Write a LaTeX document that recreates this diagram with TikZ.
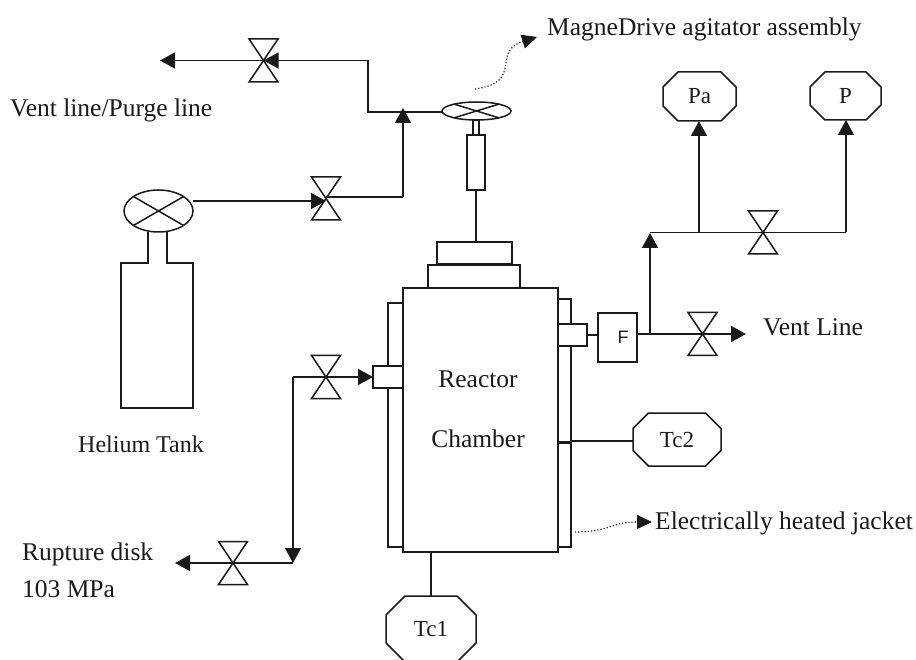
\documentclass[tikz,border=0pt]{standalone}
\usepackage{fontspec}
\setmainfont{Liberation Serif}
\setsansfont{Liberation Sans}
\usetikzlibrary{positioning,arrows.meta,shapes.geometric}
\definecolor{ink}{HTML}{1A1A1A}

% valve: name, position
\newcommand{\valve}[2]{
  \node[valvebox] (#1) at (#2) {};
  \draw[line] (#1.north west) -- (#1.south east) -- (#1.south west) -- (#1.north east) -- cycle;
}
% gauge: name, position, width, height, chamfer, text
\newcommand{\gauge}[6]{
  \node[gaugebox, minimum width=#3pt, minimum height=#4pt] (#1) at (#2) {\raisebox{-2.5pt}{#6}};
  \draw[line] ([xshift=#5pt]#1.north west) -- ([xshift=-#5pt]#1.north east) -- ([yshift=-#5pt]#1.north east)
    -- ([yshift=#5pt]#1.south east) -- ([xshift=-#5pt]#1.south east) -- ([xshift=#5pt]#1.south west)
    -- ([yshift=#5pt]#1.south west) -- ([yshift=-#5pt]#1.north west) -- cycle;
}

\begin{document}
\begin{tikzpicture}[
    x=1pt, y=-1pt, every node/.style={text=ink},
    line/.style={draw=ink, line width=1.5pt, line join=miter},
    arrow/.style={line, -{Triangle[length=15pt,width=16pt]}},
    dotline/.style={draw=ink, line width=1.2pt, dotted, -{Triangle[length=15pt,width=14pt]}},
    box/.style={line, rectangle, inner sep=0pt, outer sep=0pt},
    valvebox/.style={rectangle, minimum width=29pt, minimum height=43pt, inner sep=0pt, outer sep=0pt},
    gaugebox/.style={rectangle, inner sep=0pt, outer sep=0pt, font=\fontsize{23}{26}\selectfont},
    disc/.style={line, ellipse, inner sep=0pt, outer sep=0pt},
    lbl/.style={font=\fontsize{25.5}{29}\selectfont, inner sep=0pt, anchor=base west}
]
\useasboundingbox (0,0) rectangle (916,660);
\clip (0,0) rectangle (916,660);

% Chamber and jackets
\node[box, minimum width=155pt, minimum height=264pt] (chamber) at (480.5,420) {};
\node[box, minimum width=15pt, minimum height=244pt] (jacketL) at (395.5,425) {};
\node[box, minimum width=13pt, minimum height=143pt] (jacketR) at (564.5,370.5) {};
\node[box, minimum width=13pt, minimum height=104pt] (jacketH) at (564.5,495) {};
\node[box, minimum width=92pt, minimum height=23pt] (flange) at (474,276.5) {};
\node[box, minimum width=75pt, minimum height=22pt] (lid) at (474.5,253) {};
\node[box, fill=white, minimum width=30pt, minimum height=22pt] (portL) at (388,377) {};
\node[box, fill=white, minimum width=29pt, minimum height=22pt] (portR) at (572.5,335) {};
\node[box, minimum width=39pt, minimum height=49pt, font=\sffamily\fontsize{18}{22}\selectfont] (filter) at (617.5,337.5) {\hspace*{11pt}\raisebox{-2.5pt}{F}};
\node[lbl, anchor=base] (reactor) at (478,388) {Reactor};
\node[lbl, anchor=base] (cham) at (478,447) {Chamber};

% Agitator
\node[box, minimum width=18pt, minimum height=55pt] (drive) at (476,162.5) {};
\node[box, minimum width=6pt, minimum height=15pt] (stem) at (476,127.5) {};
\node[disc, fill=white, minimum width=69pt, minimum height=18pt] (wheel) at (476.5,111) {};
\draw[line] (wheel.163) -- (wheel.-17) (wheel.17) -- (wheel.197);
\draw[line] (drive.south) -- (drive.south |- lid.north);

% Helium tank
\node[disc, minimum width=69pt, minimum height=42pt] (bottle) at (158.5,211) {};
\draw[line] (bottle.150) -- (bottle.-30) (bottle.30) -- (bottle.210);
\draw[line] (148,232) -- (148,263) -- (121,263) -- (121,408) -- (193,408) -- (193,263) -- (167,263) -- (167,232);
\node[lbl, anchor=base, font=\fontsize{24}{28}\selectfont] (tank) at (141,452) {Helium Tank};

% Valves
\valve{vPurge}{263.5,60.5}
\valve{vHe}{326,198.5}
\valve{vIn}{326,377}
\valve{vDisk}{233,563}
\valve{vVent}{702.5,334}
\valve{vP}{763,232.5}

% Gauges
\gauge{Pa}{699.5,96.5}{73}{49}{15}{Pa}
\gauge{P}{845.5,96}{71}{48}{15}{P}
\gauge{Tc2}{677,439.5}{88}{53}{15.5}{Tc2}
\gauge{Tc1}{431,629}{90}{66}{19}{Tc1}

% Free ends and corners
\coordinate (purgeEnd) at (160,60.5);
\coordinate (purgeCorner) at (368,60.5);
\coordinate (purgeTee) at (368,112);
\coordinate (heTee) at (403,108);
\coordinate (heCorner) at (403,197);
\coordinate (diskTee) at (293,377);
\coordinate (diskCorner) at (293,563);
\coordinate (diskEnd) at (175,563);
\coordinate (ventTee) at (650,334);
\coordinate (ventEnd) at (746,334);
\coordinate (gaugeTee) at (650,233);
\coordinate (paTee) at (699,232.5);
\coordinate (pCorner) at (846,232.5);

% Connectors
\draw[arrow] (purgeCorner) -- (vPurge.center);
\draw[arrow] (vPurge.center) -- (purgeEnd);
\draw[line] (wheel.west |- purgeTee) -- (purgeTee) -- (purgeCorner);
\draw[arrow] (bottle.east |- 0,201) -- (vHe.center |- 0,201);
\draw[line] (vHe.center |- heCorner) -- (heCorner);
\draw[arrow] (heCorner) -- (heTee);
\draw[line] (diskTee) -- (vIn.center);
\draw[arrow] (vIn.center) -- (portL.west);
\draw[arrow] (diskTee) -- (diskCorner);
\draw[line] (diskCorner) -- (vDisk.center);
\draw[arrow] (vDisk.center) -- (diskEnd);
\draw[line] (portR.east) -- (portR.east -| filter.west);
\draw[line] (filter.east |- ventTee) -- (ventTee) -- (vVent.center);
\draw[arrow] (vVent.center) -- (ventEnd);
\draw[arrow] (ventTee) -- (gaugeTee);
\draw[line] (gaugeTee |- vP.center) -- (vP.center) -- (pCorner);
\draw[arrow] (pCorner) -- (pCorner |- P.south);
\draw[arrow] (paTee) -- (paTee |- Pa.south);
\draw[line] (jacketR.east |- 0,441) -- (Tc2.west |- 0,441);
\draw[line] (chamber.south -| Tc1) -- (Tc1.north);

% Dotted leaders
\coordinate (magneFrom) at (475,89);
\coordinate (magneTo) at (537,37);
\coordinate (heatFrom) at (575,532);
\coordinate (heatTo) at (652,522);
\draw[dotline] (magneFrom) .. controls (525,82) and (490,52) .. (magneTo);
\draw[dotline] (heatFrom) .. controls (610,532) and (610,522) .. (heatTo);

% Labels
\node[lbl] (magne) at (547,36) {MagneDrive agitator assembly};
\node[lbl] (purge) at (10,117) {Vent line/Purge line};
\node[lbl] (rupture) at (22,560) {Rupture disk};
\node[lbl] (mpa) at (22,597) {103 MPa};
\node[lbl] (ventl) at (763,336) {Vent Line};
\node[lbl] (heat) at (655,529) {Electrically heated jacket};

\end{tikzpicture}
\end{document}
